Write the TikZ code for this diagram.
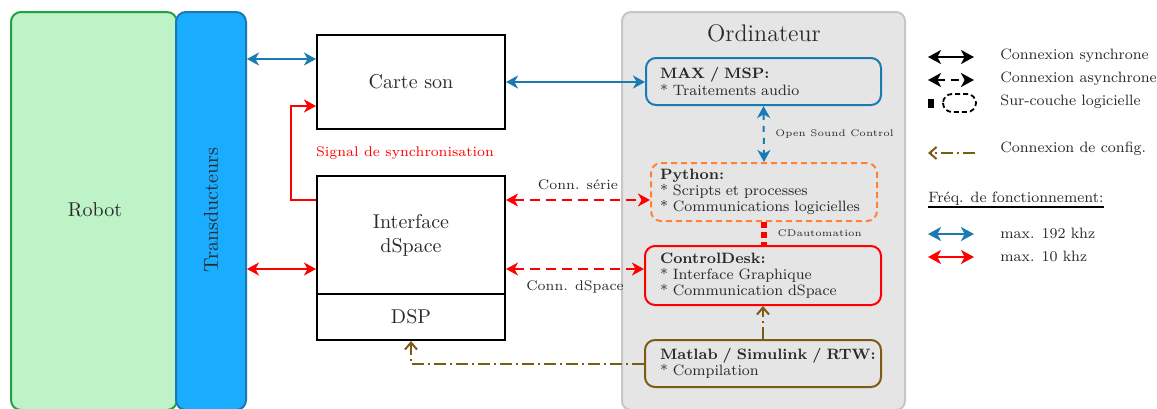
\documentclass[tikz,border=0pt]{standalone}
\usetikzlibrary{arrows.meta,calc}
\definecolor{robotfill}{HTML}{BDF3C7}
\definecolor{robotdraw}{HTML}{22A045}
\definecolor{transfill}{HTML}{1AADFF}
\definecolor{transdraw}{HTML}{1B78B4}
\definecolor{myblue}{HTML}{1A7AB2}
\definecolor{myred}{HTML}{FF0000}
\definecolor{myorange}{HTML}{FF8036}
\definecolor{mybrown}{HTML}{7D5B14}
\definecolor{ordfill}{HTML}{E5E5E5}
\definecolor{orddraw}{HTML}{C6C6C6}
\definecolor{txt}{HTML}{2A2A2A}
\tikzset{
  >={Stealth[length=6pt,width=6.5pt,inset=1.8pt]},
  every node/.style={text=txt},
  blk/.style={draw=black, line width=1pt, fill=white, minimum width=94pt, align=center, font=\normalsize, inner sep=0pt},
  soft/.style={rounded corners=5pt, line width=1pt, fill=ordfill, inner xsep=7pt, inner ysep=0pt, align=left, font=\fontsize{7.5}{8.1}\selectfont},
  bluearr/.style={myblue, line width=1pt, <->},
  redarr/.style={myred, line width=1pt, <->},
  reddash/.style={myred, line width=1pt, <->, dash pattern=on 5pt off 3pt},
  brownarr/.style={mybrown, line width=1pt, dash pattern=on 6pt off 2pt on 1pt off 2pt, arrows={-Straight Barb[length=3.5pt,width=6pt]}},
  lbl/.style={font=\fontsize{7}{8}\selectfont},
  tinylbl/.style={font=\fontsize{4.8}{5.5}\selectfont},
  legtxt/.style={font=\fontsize{7.5}{8}\selectfont, anchor=west, inner sep=0pt},
  legarr/.style={line width=0.9pt, <->, >={Stealth[length=6.5pt,width=7pt,inset=1.8pt]}},
}
\begin{document}
\begin{tikzpicture}[x=0.5pt,y=-0.5pt]
\useasboundingbox (0,0) rectangle (1157,408);

% Robot and transducers
\node[draw=robotdraw, fill=robotfill, line width=1pt, rounded corners=5pt, minimum width=83pt, minimum height=199pt, inner sep=0pt] (robot) at (94,211) {};
\node (robottxt) at (95,210) {Robot};
\node[draw=transdraw, fill=transfill, line width=1pt, rounded corners=5pt, minimum width=35pt, minimum height=199pt, inner sep=0pt] (trans) at (211,211) {};
\node[rotate=90] (transtxt) at (211,210) {Transducteurs};

% Hardware boxes
\node[blk, minimum height=47pt] (carte) at (411,82) {Carte son};
\node[blk, minimum height=59pt] (iface) at (411,235) {Interface\\dSpace};
\node[blk, minimum height=23pt] (dsp) at (411,317) {DSP};

% Computer
\node[draw=orddraw, fill=ordfill, line width=1pt, rounded corners=4.5pt, minimum width=141.5pt, minimum height=199pt, inner sep=0pt] (ordi) at (763.5,211) {};
\node[font=\large] (orditxt) at (764,33) {Ordinateur};

\node[soft, draw=myblue, text width=103.5pt, minimum height=23.5pt] (max) at (763.5,81.5)
  {\mbox{\textbf{MAX / MSP:}}\\\mbox{{*} Traitements audio}};
\node[soft, draw=myorange, dash pattern=on 3pt off 2pt, inner xsep=4.5pt, text width=104pt, minimum height=29pt] (python) at (764,192)
  {\mbox{\textbf{Python:}}\\\mbox{{*} Scripts et processes}\\\mbox{{*} Communications logicielles}};
\node[soft, draw=myred, text width=103pt, minimum height=29.5pt, inner xsep=7.5pt] (cdesk) at (763,275.5)
  {\mbox{\textbf{ControlDesk:}}\\\mbox{{*} Interface Graphique}\\\mbox{{*} Communication dSpace}};
\node[soft, draw=mybrown, text width=103pt, minimum height=23.5pt, inner xsep=7.5pt] (matlab) at (763,363.5)
  {\mbox{\textbf{Matlab / Simulink / RTW:}}\\\mbox{{*} Compilation}};

% Connections
\coordinate (cs) at ([yshift=11.5pt]carte.west);
\draw[bluearr] (cs -| trans.east) -- (cs);
\coordinate (ir) at ([yshift=-17pt]iface.west);
\draw[redarr] (ir -| trans.east) -- (ir);
\draw[bluearr] (carte.east) -- (carte.east -| max.west);
\draw[myred, line width=1pt, ->] ([yshift=17.5pt]iface.west) -- ++(-12.5pt,0) |- ([yshift=-12pt]carte.west);
\node[lbl, text=myred] (sync) at (405,153) {Signal de synchronisation};

\coordinate (ise) at ([yshift=17.5pt]iface.east);
\draw[reddash] (ise) -- node[lbl, above=1.5pt] (cserie) {Conn. série} (ise -| python.west);
\coordinate (ide) at ([yshift=-17pt]iface.east);
\draw[reddash] (ide) -- node[lbl, below=2pt] (cdsp) {Conn. dSpace} (ide -| cdesk.west);

\draw[myblue, line width=1pt, <->, dash pattern=on 3pt off 3pt] (max.south) -- node[tinylbl, right=2pt] (osc) {Open Sound Control} (python.south |- python.north);
\draw[myred, line width=3pt, dash pattern=on 3pt off 2pt] (python.south) -- node[tinylbl, right=2pt] (cda) {CDautomation} (python.south |- cdesk.north);

\draw[brownarr] (matlab.north) -- (matlab.north |- cdesk.south);
\draw[brownarr] (matlab.west) -| (dsp.south);

% Legend
\coordinate (la1) at (928,57); \coordinate (lb1) at (974,57);
\draw[legarr] (la1) -- (lb1);
\node[legtxt] (lt1) at (1000,56) {Connexion synchrone};
\coordinate (la2) at (928,80); \coordinate (lb2) at (974,80);
\draw[legarr, dash pattern=on 4pt off 3pt] (la2) -- (lb2);
\node[legtxt] (lt2) at (1000,79) {Connexion asynchrone};
\fill[black] (928,99) rectangle (934,108);
\draw[line width=0.9pt, dash pattern=on 2.5pt off 1.5pt, rounded corners=4.5pt] (943,94) rectangle (976,112);
\node[legtxt] (lt3) at (1000,102) {Sur-couche logicielle};
\coordinate (la4) at (928,153); \coordinate (lb4) at (975,153);
\draw[brownarr] (lb4) -- (la4);
\node[legtxt] (lt4) at (1000,149) {Connexion de config.};
\node[legtxt, anchor=base west] (fr) at (928,202) {Fréq. de fonctionnement:};
\draw[line width=1pt] ([yshift=-2.5pt]fr.base west) -- ([yshift=-2.5pt]fr.base east);
\coordinate (la5) at (928,234); \coordinate (lb5) at (974,234);
\draw[legarr, myblue] (la5) -- (lb5);
\node[legtxt] (lt5) at (1000,233) {max. 192 khz};
\coordinate (la6) at (928,257); \coordinate (lb6) at (974,257);
\draw[legarr, myred] (la6) -- (lb6);
\node[legtxt] (lt6) at (1000,256) {max. 10 khz};
\end{tikzpicture}
\end{document}
